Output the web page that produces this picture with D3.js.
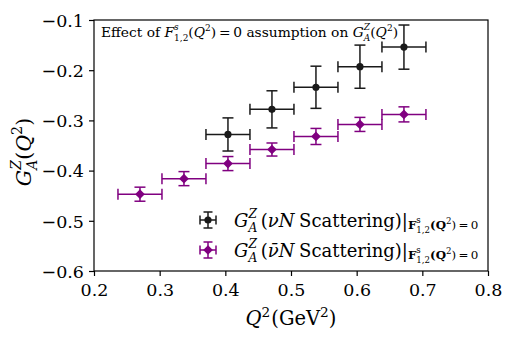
<!DOCTYPE html>
<html><head><meta charset="utf-8">
<script src="https://cdn.jsdelivr.net/npm/d3@7"></script>
<style>body{margin:0;background:#fff}svg{display:block}text{white-space:pre}</style>
</head><body>
<svg id="c" width="507" height="343"></svg>
<script>
// ---- data ----
const nuQ2   = [0.404, 0.471, 0.538, 0.605, 0.672];
const nuG    = [-0.328, -0.278, -0.234, -0.193, -0.154];
const nuErr  = [0.033, 0.037, 0.042, 0.043, 0.044];
const nbQ2   = [0.270, 0.337, 0.404, 0.471, 0.538, 0.605, 0.672];
const nbG    = [-0.447, -0.416, -0.386, -0.358, -0.332, -0.308, -0.288];
const nbErr  = [0.014, 0.014, 0.014, 0.013, 0.016, 0.014, 0.015];
const q2Err  = [0.0335, 0.0335, 0.0335, 0.0335, 0.0335, 0.0335, 0.0335];
const xTicks = [0.2, 0.3, 0.4, 0.5, 0.6, 0.7, 0.8];
const yTicks = [-0.6, -0.5, -0.4, -0.3, -0.2, -0.1];

const FONT = "DejaVu Serif";
const svg = d3.select("#c");
const m = {l: 94, r: 488, t: 20, b: 271};
const x = d3.scaleLinear().domain([0.2, 0.8]).range([m.l, m.r]);
const y = d3.scaleLinear().domain([-0.6, -0.1]).range([m.b, m.t]);

// axes
const xa = svg.append("g").attr("transform", `translate(0,${m.b})`)
  .call(d3.axisBottom(x).tickValues(xTicks).tickFormat(d3.format(".1f")).tickSizeOuter(0).tickSize(5).tickPadding(6));
const ya = svg.append("g").attr("transform", `translate(${m.l},0)`)
  .call(d3.axisLeft(y).tickValues(yTicks).tickFormat(d => "\u2212" + d3.format(".1f")(-d)).tickSizeOuter(0).tickSize(5).tickPadding(5));
[xa, ya].forEach(a => {
  a.attr("font-family", FONT);
  a.selectAll("text").attr("font-family", FONT).attr("font-size", 17.5).attr("fill", "#000");
  a.selectAll("line").attr("stroke", "#000").attr("stroke-width", 1.2);
  a.select(".domain").remove();
});
xa.selectAll("text").attr("dy", "0.82em");
ya.selectAll("text").attr("dy", "0.36em");
svg.append("rect").attr("x", m.l).attr("y", m.t).attr("width", m.r - m.l).attr("height", m.b - m.t)
  .attr("fill", "none").attr("stroke", "#000").attr("stroke-width", 1.2);

// rich text helper (one <text>, positioned tspans): parts {t, it, sz, dy, stack, bold, sp}
function rich(g, x0, y0, parts, base, anchor) {
  const t = g.append("text").attr("font-family", FONT).attr("font-size", base).attr("fill", "#000");
  let cx = 0, pend = null;
  parts.forEach(p => {
    const s = t.append("tspan").attr("x", cx).attr("y", (p.dy || 0) * base)
      .attr("font-size", (p.sz || 1) * base)
      .attr("font-style", p.it ? "italic" : "normal").attr("font-weight", p.bold ? "bold" : "normal")
      .text(p.t);
    const w = s.node().getComputedTextLength();
    if (p.stack) { pend = w; }
    else { cx += Math.max(w, pend || 0) + (p.sp || 0) * base; pend = null; }
  });
  const off = anchor === "middle" ? -cx / 2 : (anchor === "end" ? -cx : 0);
  t.attr("transform", `translate(${x0 + off},${y0})`);
  return t;
}

// error bars
function series(X, Y, E, XE, color, marker) {
  const g = svg.append("g");
  X.forEach((q, i) => {
    const cx = x(q), cy = y(Y[i]);
    const x1 = x(q - XE[i]), x2 = x(q + XE[i]);
    const y1 = y(Y[i] - E[i]), y2 = y(Y[i] + E[i]);
    const ln = (a, b, c, d) => g.append("line").attr("x1", a).attr("y1", b).attr("x2", c).attr("y2", d)
      .attr("stroke", color).attr("stroke-width", 1.5);
    ln(x1, cy, x2, cy); ln(cx, y1, cx, y2);
    ln(x1, cy - 5.5, x1, cy + 5.5); ln(x2, cy - 5.5, x2, cy + 5.5);
    ln(cx - 5.5, y1, cx + 5.5, y1); ln(cx - 5.5, y2, cx + 5.5, y2);
    if (marker === "circle") g.append("circle").attr("cx", cx).attr("cy", cy).attr("r", 3.6).attr("fill", color);
    else g.append("path").attr("d", d3.symbol(d3.symbolDiamond2, 60)()).attr("transform", `translate(${cx},${cy})`).attr("fill", color);
  });
}
const BLACK = "#1a1a1a", PURPLE = "#800080";
series(nbQ2, nbG, nbErr, q2Err, PURPLE, "diamond");
series(nuQ2, nuG, nuErr, q2Err.slice(0, nuQ2.length), BLACK, "circle");

// annotation
rich(svg, 101, 36.5, [
  {t: "Effect of "}, {t: "F", it: 1}, {t: "s", it: 1, sz: 0.65, dy: -0.45, stack: 1}, {t: "1,2", sz: 0.65, dy: 0.3},
  {t: "("}, {t: "Q", it: 1}, {t: "2", sz: 0.65, dy: -0.42}, {t: ")\u2009=\u20090 assumption on "},
  {t: "G", it: 1}, {t: "Z", it: 1, sz: 0.65, dy: -0.45, stack: 1}, {t: "A", it: 1, sz: 0.65, dy: 0.3},
  {t: "("}, {t: "Q", it: 1}, {t: "2", sz: 0.65, dy: -0.42}, {t: ")"}
], 13.8);

// axis labels
rich(svg, 291, 325, [
  {t: "Q", it: 1}, {t: "2", sz: 0.7, dy: -0.42, sp: 0.05}, {t: "(GeV"}, {t: "2", sz: 0.7, dy: -0.42}, {t: ")"}
], 19.5, "middle");
const yl = svg.append("g").attr("transform", "translate(31,152) rotate(-90)");
rich(yl, 0, 0, [
  {t: "G", it: 1}, {t: "Z", it: 1, sz: 0.68, dy: -0.5, stack: 1}, {t: "A", it: 1, sz: 0.68, dy: 0.3},
  {t: "("}, {t: "Q", it: 1}, {t: "2", sz: 0.7, dy: -0.45}, {t: ")"}
], 20.5, "middle");

// legend
function legendRow(yy, color, marker, bar) {
  const hx = 208;
  const ln = (a, b, c, d) => svg.append("line").attr("x1", a).attr("y1", b).attr("x2", c).attr("y2", d)
    .attr("stroke", color).attr("stroke-width", 1.5);
  ln(hx - 8, yy, hx + 8, yy); ln(hx, yy - 8, hx, yy + 8);
  ln(hx - 8, yy - 4.5, hx - 8, yy + 4.5); ln(hx + 8, yy - 4.5, hx + 8, yy + 4.5);
  ln(hx - 4.5, yy - 8, hx + 4.5, yy - 8); ln(hx - 4.5, yy + 8, hx + 4.5, yy + 8);
  if (marker === "circle") svg.append("circle").attr("cx", hx).attr("cy", yy).attr("r", 3.6).attr("fill", color);
  else svg.append("path").attr("d", d3.symbol(d3.symbolDiamond2, 60)()).attr("transform", `translate(${hx},${yy})`).attr("fill", color);
  rich(svg, 234, yy + 6.5, [
    {t: "G", it: 1}, {t: "Z", it: 1, sz: 0.68, dy: -0.5, stack: 1}, {t: "A", it: 1, sz: 0.68, dy: 0.3, sp: 0.2},
    {t: "("}, {t: bar ? "\u03BD\u0304" : "\u03BD", it: 1}, {t: "N", it: 1, sp: 0.25}, {t: "Scattering)|"},
    {t: "F", sz: 0.66, dy: 0.15, bold: 1}, {t: "s", sz: 0.48, dy: -0.18, stack: 1}, {t: "1,2", sz: 0.48, dy: 0.36},
    {t: "(Q", sz: 0.66, dy: 0.15, bold: 1}, {t: "2", sz: 0.48, dy: -0.12}, {t: ")\u2009=\u20090", sz: 0.66, dy: 0.15}
  ], 18);
}
legendRow(220, BLACK, "circle", false);
legendRow(250, PURPLE, "diamond", true);
</script>
</body></html>
